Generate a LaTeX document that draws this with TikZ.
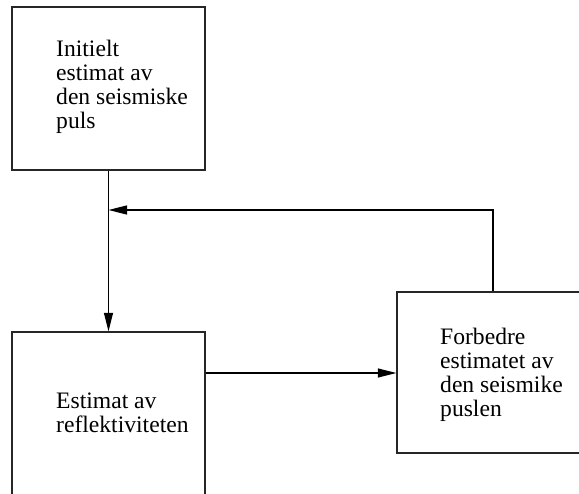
\documentclass[tikz,border=0pt]{standalone}
\usepackage{fontspec}
\setmainfont{Liberation Serif}
\usetikzlibrary{arrows.meta}
\begin{document}
\begin{tikzpicture}[x=1pt,y=-1pt,
  box/.style={draw=black!85,line width=1.3pt,rectangle,inner sep=0pt},
  lbl/.style={anchor=base west,align=left,inner sep=0pt,
    font=\fontsize{23.6}{24}\selectfont},
  conn/.style={draw=black,line width=1.2pt},
  tip/.style={-{Triangle[length=18.5pt,width=9pt]}}]
\useasboundingbox (0,0) rectangle (579,494);
\clip (0,0) rectangle (579,494);
\node[box,minimum width=193pt,minimum height=163pt] (b1) at (108.5,88.5) {};
\node[box,minimum width=193pt,minimum height=200pt] (b2) at (108.5,432) {};
\node[box,minimum width=200pt,minimum height=161pt] (b3) at (497,372.5) {};
\node[lbl] (t1) at (56,128.5) {Initielt\\estimat av\\den seismiske\\puls};
\node[lbl] (t2) at (56,433) {Estimat av\\reflektiviteten};
\node[lbl] (t3) at (440,417) {Forbedre\\estimatet av\\den seismike\\puslen};
\coordinate (j) at (b1.south |- 0,210);
\draw[conn,tip] (b1.south) -- (b2.north);
\draw[conn,tip] (b2.east |- 0,373) -- (b3.west |- 0,373);
\draw[conn,tip] (b3.north -| 493,0) |- (j);
\end{tikzpicture}
\end{document}
